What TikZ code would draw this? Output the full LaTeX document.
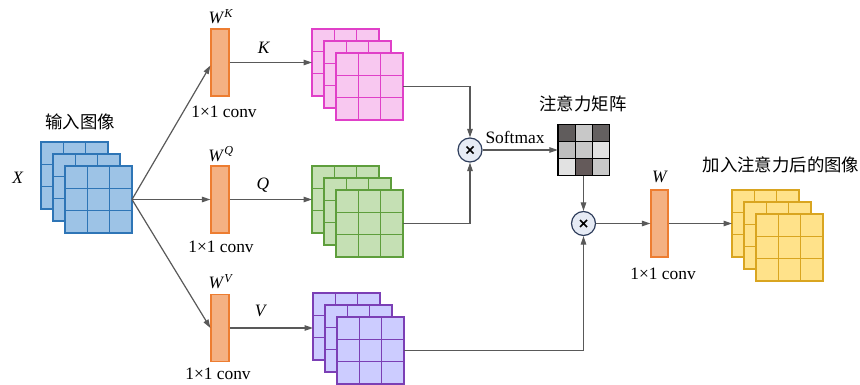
\documentclass[tikz,border=0pt]{standalone}
\usepackage{fontspec}
\setmainfont{Liberation Serif}
\newfontfamily\cjk{Noto Sans CJK SC}
\usetikzlibrary{arrows.meta}
\definecolor{linec}{HTML}{595959}
\definecolor{bluef}{HTML}{9DC3E6}\definecolor{blued}{HTML}{2E75B6}
\definecolor{pinkf}{HTML}{F8C8F0}\definecolor{pinkd}{HTML}{E040C8}
\definecolor{greenf}{HTML}{C5E0B4}\definecolor{greend}{HTML}{5E9E3C}
\definecolor{purpf}{HTML}{CCCCFF}\definecolor{purpd}{HTML}{7B3FB5}
\definecolor{yellf}{HTML}{FFE28A}\definecolor{yelld}{HTML}{D9A520}
\definecolor{barfill}{HTML}{F4B183}\definecolor{barline}{HTML}{ED7D31}
\definecolor{mulfill}{HTML}{E6EBF5}\definecolor{mulline}{HTML}{2F3E5C}
\newcommand\mystack[5]{%
  \foreach \d/\s in {24/b,12/m,0/f}{%
    \node[cell, fill=#4, draw=#5, anchor=north west] (#1\s) at ({#2-\d},{#3-\d}) {};
    \draw[#5, line width=1.2pt] ({#2-\d+67/3},{#3-\d}) -- ++(0,67)
      ({#2-\d+134/3},{#3-\d}) -- ++(0,67)
      ({#2-\d},{#3-\d+67/3}) -- ++(67,0)
      ({#2-\d},{#3-\d+134/3}) -- ++(67,0);
  }}
\begin{document}
\begin{tikzpicture}[x=1pt,y=-1pt, font=\rmfamily\fontsize{17.4}{20}\selectfont,
  cell/.style={minimum width=67pt, minimum height=67pt, inner sep=0pt, outer sep=0pt, line width=1.2pt},
  arr/.style={draw=linec, line width=1.2pt, -{Triangle[length=8.5pt,width=5.5pt]}},
  bar/.style={draw=barline, fill=barfill, line width=1.2pt, minimum width=18pt, minimum height=67pt, inner sep=0pt},
  mul/.style={circle, draw=mulline, fill=mulfill, line width=1.2pt, minimum size=24pt, inner sep=0pt},
  acell/.style={draw=black, line width=0.8pt, minimum size=17pt, inner sep=0pt},
]
\useasboundingbox (0,0) rectangle (860,385);

% stacks
\mystack{x}{65}{166}{bluef}{blued}
\mystack{k}{336}{53}{pinkf}{pinkd}
\mystack{q}{336}{190}{greenf}{greend}
\mystack{v}{337}{317}{purpf}{purpd}
\mystack{y}{756}{214}{yellf}{yelld}

% conv bars
\node[bar] (wk) at (220,62.5) {};
\node[bar] (wq) at (220,199.5) {};
\node[bar] (wv) at (220,328) {};
\node[bar, minimum width=17pt] (ww) at (659.5,223.5) {};

% multiply nodes
\node[mul] (m1) at (470,150) {};
\node[mul] (m2) at (583.5,223.5) {};
\foreach \m in {m1,m2}{
  \draw[black, line width=1.6pt] ([shift={(-3.5pt,-3.5pt)}]\m.center) -- ([shift={(3.5pt,3.5pt)}]\m.center)
    ([shift={(-3.5pt,3.5pt)}]\m.center) -- ([shift={(3.5pt,-3.5pt)}]\m.center);
}

% attention matrix
\node[minimum size=51pt, inner sep=0pt] (att) at (583.5,150) {};
\node[acell, fill={rgb,255:red,96;green,92;blue,92}]   (a11) at (566.5,133) {};
\node[acell, fill={rgb,255:red,200;green,200;blue,200}] (a12) at (583.5,133) {};
\node[acell, fill={rgb,255:red,100;green,96;blue,96}]  (a13) at (600.5,133) {};
\node[acell, fill={rgb,255:red,190;green,190;blue,190}] (a21) at (566.5,150) {};
\node[acell, fill={rgb,255:red,200;green,200;blue,200}] (a22) at (583.5,150) {};
\node[acell, fill={rgb,255:red,226;green,226;blue,226}] (a23) at (600.5,150) {};
\node[acell, fill={rgb,255:red,226;green,226;blue,226}] (a31) at (566.5,167) {};
\node[acell, fill={rgb,255:red,100;green,90;blue,90}]  (a32) at (583.5,167) {};
\node[acell, fill={rgb,255:red,200;green,200;blue,200}] (a33) at (600.5,167) {};
\draw[line width=1pt] (att.north west) rectangle (att.south east);

% connectors
\draw[arr] (xf.east) -- ([yshift=-3pt]wk.west);
\draw[arr] (xf.east) -- (wq.west);
\draw[arr] (xf.east) -- (wv.west);
\draw[arr] (wk.east) -- (wk.east -| kb.west);
\draw[arr] (wq.east) -- (wq.east -| qb.west);
\draw[arr] (wv.east) -- (wv.east -| vb.west);
\draw[arr] (kf.east) -| (m1.north);
\draw[arr] (qf.east) -| (m1.south);
\draw[arr] (vf.east) -| (m2.south);
\draw[arr] (m1.east) -- (att.west);
\draw[arr] (att.south) -- (m2.north);
\draw[arr] (m2.east) -- (ww.west);
\draw[arr] (ww.east) -- (ww.east -| yb.west);

% labels
\node (t1) at (80,122) {\cjk 输入图像};
\node (tx) at (18,178) {\textit{X}};
\node (twk) at (221,17) {\textit{W}\textsuperscript{\textit{K}}};
\node (twq) at (221,154) {\textit{W}\textsuperscript{\textit{Q}}};
\node (twv) at (221,282) {\textit{W}\textsuperscript{\textit{V}}};
\node (tw) at (660,177) {\textit{W}};
\node (ck) at (224,112) {1×1 conv};
\node (cq) at (221,247) {1×1 conv};
\node (cv) at (218,374) {1×1 conv};
\node (cw) at (663,274) {1×1 conv};
\node (lk) at (264,48) {\textit{K}};
\node (lq) at (263,185) {\textit{Q}};
\node (lv) at (261,311) {\textit{V}};
\node (sm) at (515,137) {Softmax};
\node (t2) at (583,104) {\cjk 注意力矩阵};
\node (t3) at (781,165) {\cjk 加入注意力后的图像};
\end{tikzpicture}
\end{document}
